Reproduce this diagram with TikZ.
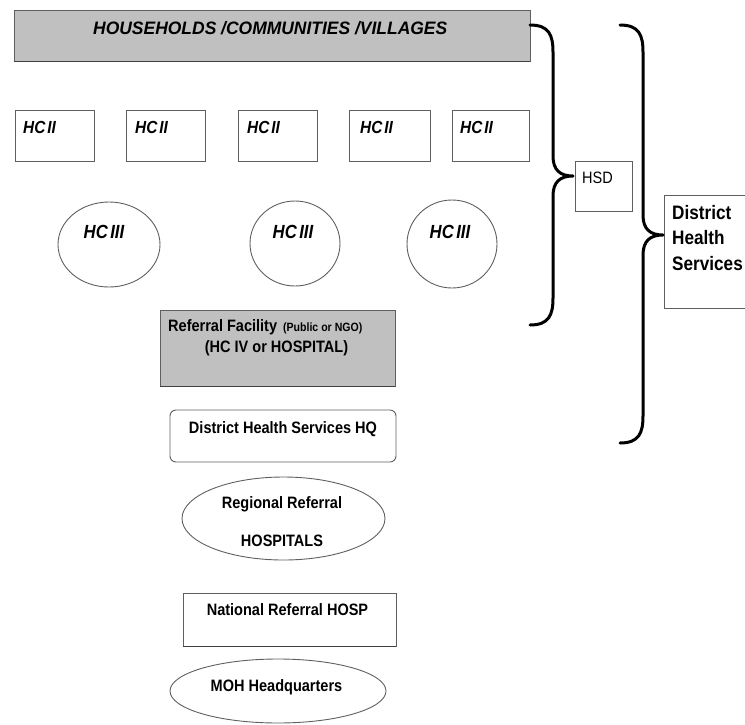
\documentclass[tikz,border=0pt]{standalone}
\usepackage{fontspec}
\setmainfont{Liberation Sans}
\newfontfamily\fa{Liberation Sans}[FakeStretch=0.88]
\newfontfamily\fb{Liberation Sans}[FakeStretch=0.97]
\usetikzlibrary{shapes.geometric}
\definecolor{boxgray}{RGB}{192,192,192}
\definecolor{edgegray}{RGB}{95,95,95}
\tikzset{
  shbox/.style={draw=edgegray, line width=0.9pt, inner sep=0pt, rectangle},
  grbox/.style={shbox, fill=boxgray},
  ovalshape/.style={draw=edgegray, line width=0.9pt, inner sep=0pt, ellipse},
  txt/.style={inner sep=0pt, text=black},
  hclbl/.style={txt, font=\fa\bfseries\itshape\fontsize{17.5}{20}\selectfont},
  hcilbl/.style={txt, font=\fa\bfseries\itshape\fontsize{19}{21}\selectfont},
  mainlbl/.style={txt, font=\fa\bfseries\fontsize{16.5}{19}\selectfont},
  bracestroke/.style={draw=black, line width=3pt, line cap=round, line join=round},
  baseedge/.style={draw=black!75, line width=1.8pt}
}
\begin{document}
\begin{tikzpicture}[x=1pt,y=-1pt]
\useasboundingbox (0,0) rectangle (745,724);

% top box
\node[grbox, minimum width=516pt, minimum height=51pt] (hh) at (272,35.5) {};
\draw[baseedge] (hh.south west) -- (hh.south east);
\node[txt, anchor=west, font=\fb\bfseries\itshape\fontsize{18}{21}\selectfont] (hht) at (93,28) {HOUSEHOLDS /COMMUNITIES /VILLAGES};

% HC II boxes
\node[shbox, minimum width=79pt, minimum height=51pt] (hc1) at (54.5,135.5) {};
\node[shbox, minimum width=79pt, minimum height=51pt] (hc2) at (165.5,135.5) {};
\node[shbox, minimum width=79pt, minimum height=51pt] (hc3) at (277.5,135.5) {};
\node[shbox, minimum width=81pt, minimum height=51pt] (hc4) at (389.5,135.5) {};
\node[shbox, minimum width=77pt, minimum height=51pt] (hc5) at (490.5,135.5) {};
\node[hclbl, anchor=west] (hc1t) at (23,127) {HC\hspace{2pt}II};
\node[hclbl, anchor=west] (hc2t) at (135,127) {HC\hspace{2pt}II};
\node[hclbl, anchor=west] (hc3t) at (247,127) {HC\hspace{2pt}II};
\node[hclbl, anchor=west] (hc4t) at (360,127) {HC\hspace{2pt}II};
\node[hclbl, anchor=west] (hc5t) at (460,127) {HC\hspace{2pt}II};

% HC III circles
\node[ovalshape, minimum width=102pt, minimum height=85pt] (c1) at (109,244.5) {};
\node[ovalshape, minimum width=90pt, minimum height=85pt] (c2) at (295,243.5) {};
\node[ovalshape, minimum width=90pt, minimum height=88pt] (c3) at (452,244) {};
\node[hcilbl] (c1t) at (104,232) {HC\hspace{2.5pt}III};
\node[hcilbl] (c2t) at (293,232) {HC\hspace{2.5pt}III};
\node[hcilbl] (c3t) at (450,232) {HC\hspace{2.5pt}III};

% referral facility
\node[grbox, minimum width=235pt, minimum height=76pt] (rf) at (277.5,348) {};
\draw[baseedge] (rf.south west) -- (rf.south east);
\node[mainlbl, anchor=west] (rft1) at (168,327) {Referral Facility\hspace{6pt}{\fontsize{12}{14}\selectfont(Public or NGO)}};
\node[mainlbl] (rft2) at (276.5,348) {(HC IV or HOSPITAL)};

% district health services HQ
\node[shbox, rounded corners=6pt, minimum width=226pt, minimum height=52pt] (hq) at (283,436) {};
\node[mainlbl] (hqt) at (283,429) {District Health Services HQ};

% regional referral
\node[ovalshape, minimum width=203pt, minimum height=83pt] (rr) at (283.5,518.5) {};
\node[mainlbl] (rrt1) at (282,504) {Regional Referral};
\node[mainlbl] (rrt2) at (282,541) {HOSPITALS};

% national referral
\node[shbox, minimum width=213pt, minimum height=53pt] (nr) at (289.5,619.5) {};
\draw[baseedge] (nr.south west) -- (nr.south east);
\node[mainlbl] (nrt) at (287.5,610) {National Referral HOSP};

% MOH
\node[ovalshape, minimum width=216pt, minimum height=64pt] (moh) at (278,691) {};
\node[mainlbl] (moht) at (276.5,687) {MOH Headquarters};

% HSD box
\node[shbox, minimum width=57pt, minimum height=50pt] (hsd) at (603.5,186) {};
\node[txt, anchor=west, font=\fa\fontsize{16.5}{19}\selectfont] (hsdt) at (582,178) {HSD};

% District Health Services box
\node[shbox, minimum width=84pt, minimum height=113pt] (dhs) at (706,251.5) {};
\node[txt, anchor=west, align=left, font=\fa\bfseries\fontsize{19.5}{25.5}\selectfont] (dhst) at (672,238) {District\\Health\\Services};

% braces
\coordinate (b1top) at (530,25);
\coordinate (b1tip) at (573,176);
\coordinate (b1bot) at (530,325);
\draw[bracestroke] (b1top) .. controls (549,25) and (553,35) .. (553,52) -- (553,156)
  .. controls (553,170) and (560,176) .. (b1tip)
  .. controls (560,176) and (553,182) .. (553,196) -- (553,298)
  .. controls (553,315) and (549,325) .. (b1bot);
\coordinate (b2top) at (620,25);
\coordinate (b2tip) at (663,235);
\coordinate (b2bot) at (620,443);
\draw[bracestroke] (b2top) .. controls (639,25) and (643,35) .. (643,52) -- (643,215)
  .. controls (643,229) and (650,235) .. (b2tip)
  .. controls (650,235) and (643,241) .. (643,255) -- (643,416)
  .. controls (643,433) and (639,443) .. (b2bot);
\end{tikzpicture}
\end{document}
